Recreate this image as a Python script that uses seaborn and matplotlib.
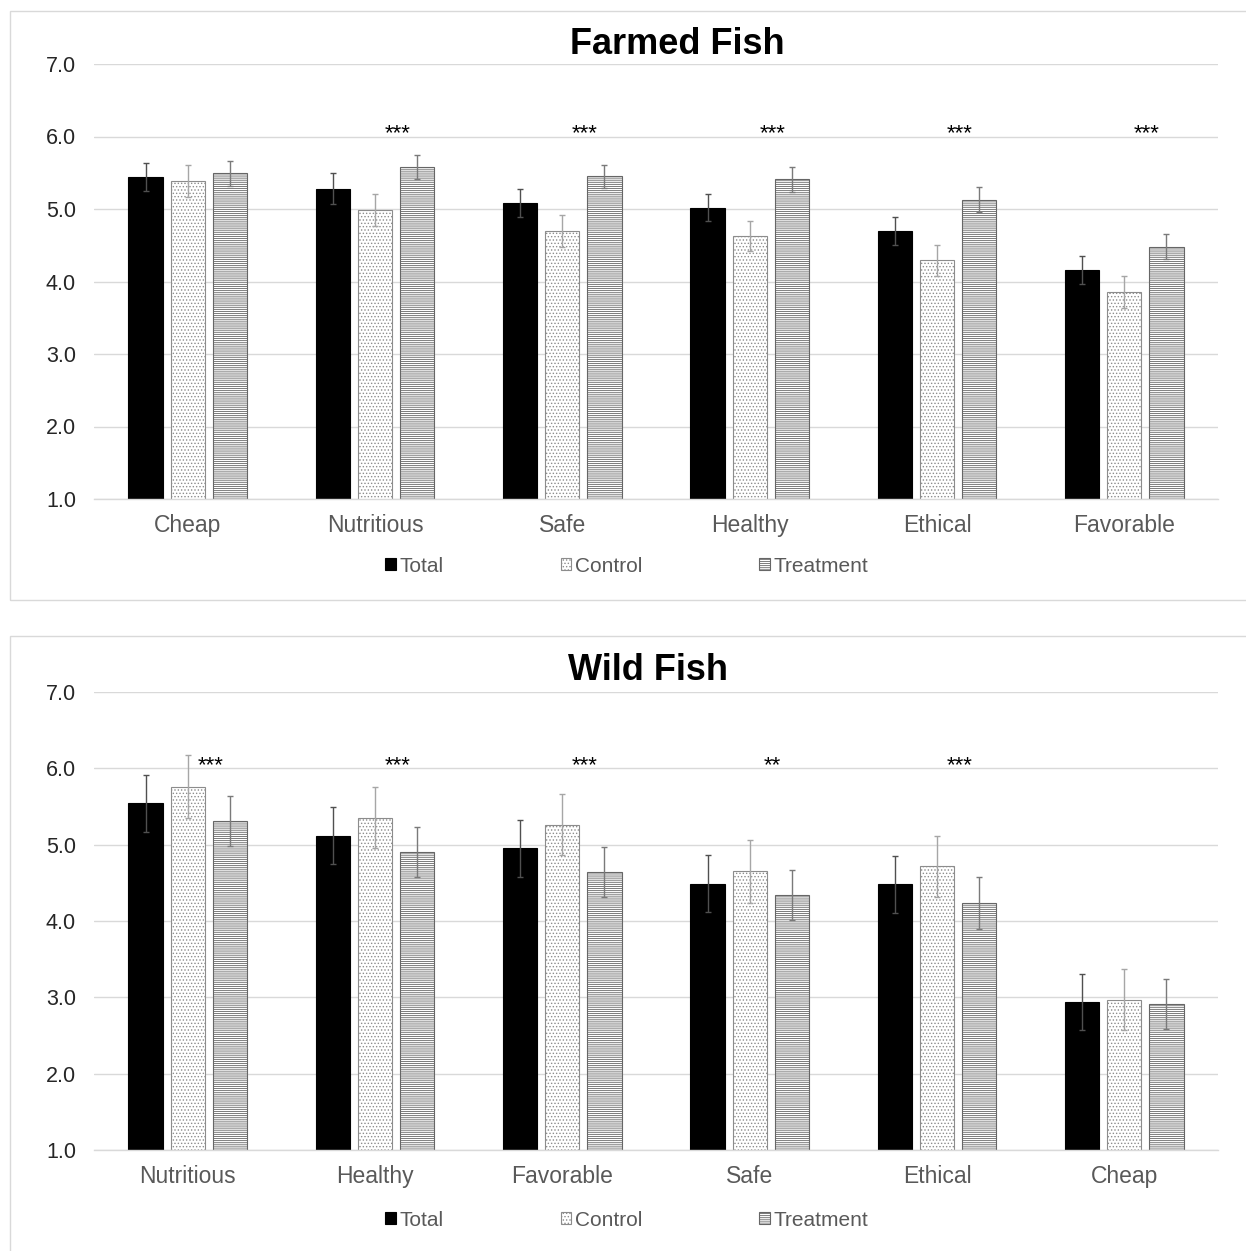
import numpy as np
import pandas as pd
import matplotlib
matplotlib.use("Agg")
import matplotlib.pyplot as plt
from matplotlib.patches import Rectangle, Patch
import seaborn as sns

# ---------------- data ----------------
groups = ["Total", "Control", "Treatment"]

farmed_attrs = ["Cheap", "Nutritious", "Safe", "Healthy", "Ethical", "Favorable"]
farmed_total = [5.44, 5.28, 5.08, 5.02, 4.70, 4.16]
farmed_control = [5.39, 4.99, 4.70, 4.63, 4.29, 3.86]
farmed_treatment = [5.49, 5.58, 5.45, 5.41, 5.13, 4.48]
farmed_total_err = [0.19, 0.21, 0.19, 0.19, 0.19, 0.19]
farmed_control_err = [0.22, 0.22, 0.22, 0.21, 0.21, 0.22]
farmed_treatment_err = [0.17, 0.17, 0.16, 0.17, 0.17, 0.17]
farmed_sig = ["", "***", "***", "***", "***", "***"]

wild_attrs = ["Nutritious", "Healthy", "Favorable", "Safe", "Ethical", "Cheap"]
wild_total = [5.54, 5.12, 4.95, 4.49, 4.48, 2.94]
wild_control = [5.76, 5.35, 5.26, 4.65, 4.72, 2.97]
wild_treatment = [5.31, 4.90, 4.64, 4.34, 4.24, 2.91]
wild_total_err = [0.37, 0.37, 0.37, 0.37, 0.37, 0.37]
wild_control_err = [0.41, 0.40, 0.40, 0.41, 0.40, 0.40]
wild_treatment_err = [0.33, 0.33, 0.33, 0.33, 0.34, 0.33]
wild_sig = ["***", "***", "***", "**", "***", ""]

y_ticks = [1.0, 2.0, 3.0, 4.0, 5.0, 6.0, 7.0]

# ---------------- style ----------------
sns.set_style("white")
plt.rcParams["font.family"] = ["Liberation Sans", "DejaVu Sans"]
plt.rcParams["hatch.linewidth"] = 0.6

W, H = 1246, 1251
fig = plt.figure(figsize=(W / 100, H / 100), dpi=100)

def fx(px):
    return px / W

def fy(py):
    return (H - py) / H

# panel borders
for top, bot in [(11, 600), (636, 1300)]:
    fig.patches.append(Rectangle((fx(10), fy(bot)), 1.2, fy(top) - fy(bot),
                                 transform=fig.transFigure, fill=False,
                                 edgecolor="#d9d9d9", linewidth=1.0, zorder=0))

styles = {
    "Total": dict(face="#000000", edge="#000000", hatch=None, ecolor="#505050"),
    "Control": dict(face="#ffffff", edge="#8c8c8c", hatch=".....", ecolor="#a6a6a6"),
    "Treatment": dict(face="#ffffff", edge="#666666", hatch="--------", ecolor="#7a7a7a"),
}

def draw(ax, attrs, vals, errs, sig, title, title_xy, legend_y):
    df = pd.DataFrame({
        "attr": np.tile(attrs, 3),
        "group": np.repeat(groups, len(attrs)),
        "value": np.concatenate(vals),
    })
    sns.barplot(data=df, x="attr", y="value", hue="group", order=attrs,
                hue_order=groups, palette=["#000000", "#ffffff", "#ffffff"],
                width=0.675, gap=0.19, errorbar=None, legend=False, ax=ax,
                zorder=2)
    for cont, g, v, e in zip(ax.containers, groups, vals, errs):
        st = styles[g]
        xs = []
        for bar in cont:
            bar.set_facecolor(st["face"])
            bar.set_edgecolor(st["edge"])
            bar.set_linewidth(0.8)
            if st["hatch"]:
                bar.set_hatch(st["hatch"])
            xs.append(bar.get_x() + bar.get_width() / 2)
        ax.errorbar(xs, v, yerr=e, fmt="none", ecolor=st["ecolor"],
                    elinewidth=1.0, capsize=2, capthick=1.0, zorder=3)
    for i, s in enumerate(sig):
        if s:
            ax.text(i + 0.12, 6.04, s, ha="center", va="center",
                    fontsize=16, color="#000000")
    ax.set_ylim(1, 7)
    ax.set_xlim(-0.5, len(attrs) - 0.5)
    ax.set_yticks(y_ticks)
    ax.set_yticklabels([f"{t:.1f}" for t in y_ticks])
    ax.yaxis.grid(True, color="#d9d9d9", linewidth=1.0)
    ax.set_axisbelow(True)
    for sp in ["top", "right", "left"]:
        ax.spines[sp].set_visible(False)
    ax.spines["bottom"].set_color("#d9d9d9")
    ax.spines["bottom"].set_linewidth(1.0)
    ax.tick_params(axis="y", length=0, pad=13, labelsize=15.5, labelcolor="#262626")
    ax.tick_params(axis="x", length=0, pad=11, labelsize=16.5, labelcolor="#595959")
    ax.set_xlabel("")
    ax.set_ylabel("")
    fig.text(fx(title_xy[0]), fy(title_xy[1]), title, ha="center", va="center",
             fontsize=26, fontweight="bold", color="#000000")
    handles = [Patch(facecolor=styles[g]["face"], edgecolor=styles[g]["edge"],
                     hatch=styles[g]["hatch"], linewidth=0.8, label=g)
               for g in groups]
    leg = ax.legend(handles=handles, loc="center", ncol=3,
                    bbox_to_anchor=(fx(627), fy(legend_y)),
                    bbox_transform=fig.transFigure, frameon=False,
                    fontsize=15, handlelength=0.5, handleheight=0.5,
                    handletextpad=0.2, columnspacing=5.6)
    for t in leg.get_texts():
        t.set_color("#595959")

ax1 = fig.add_axes([fx(94), fy(499), fx(1218) - fx(94), fy(64) - fy(499)])
draw(ax1, farmed_attrs,
     [farmed_total, farmed_control, farmed_treatment],
     [farmed_total_err, farmed_control_err, farmed_treatment_err],
     farmed_sig, "Farmed Fish", (677, 45), 566)

ax2 = fig.add_axes([fx(94), fy(1150), fx(1218) - fx(94), fy(692) - fy(1150)])
draw(ax2, wild_attrs,
     [wild_total, wild_control, wild_treatment],
     [wild_total_err, wild_control_err, wild_treatment_err],
     wild_sig, "Wild Fish", (648, 670), 1220)

fig.savefig("out.png", dpi=100)
